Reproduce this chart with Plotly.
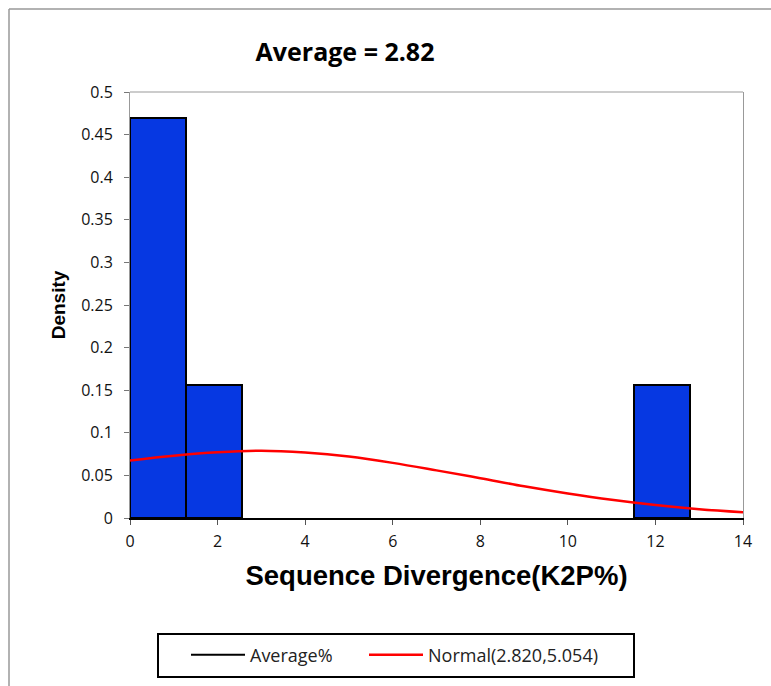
import plotly.graph_objects as go

# ---- data ----
bin_left = [0.0, 1.28, 11.52]
bin_width = [1.28, 1.28, 1.28]
density = [0.469, 0.156, 0.156]

normal_x = [0, 1, 2, 3, 4, 5, 6, 7, 8, 9, 10, 11, 12, 13, 14]
normal_y = [0.0676, 0.0731, 0.0771, 0.0789, 0.0768, 0.0721, 0.0647, 0.0559, 0.0467,
            0.0372, 0.0288, 0.0214, 0.0152, 0.0103, 0.0068]

x_ticks = [0, 2, 4, 6, 8, 10, 12, 14]
y_ticks = [0, 0.05, 0.1, 0.15, 0.2, 0.25, 0.3, 0.35, 0.4, 0.45, 0.5]
y_tick_labels = ["0", "0.05", "0.1", "0.15", "0.2", "0.25", "0.3", "0.35", "0.4", "0.45", "0.5"]

title_text = "Average = 2.82"
x_title = "Sequence Divergence(K2P%)"
y_title = "Density"
legend_avg = "Average%"
legend_norm = "Normal(2.820,5.054)"

W, H = 771, 686
L, R, T, B = 130, 28, 92, 168
pw, ph = W - L - R, H - T - B

def px_x(p):
    return (p - L) / pw

def px_y(p):
    return (H - B - p) / ph

fig = go.Figure()
fig.add_trace(go.Bar(
    x=[l + w / 2 for l, w in zip(bin_left, bin_width)],
    y=density, width=bin_width,
    marker=dict(color="#0638E2", line=dict(color="black", width=2)),
    showlegend=False, hoverinfo="skip",
))
fig.add_trace(go.Scatter(
    x=[None], y=[None], mode="lines", name=legend_avg, legend="legend",
    line=dict(color="black", width=2),
))
fig.add_trace(go.Scatter(
    x=normal_x, y=normal_y, mode="lines", name=legend_norm, legend="legend2",
    line=dict(color="red", width=2.5, shape="spline"),
))

leg_common = dict(orientation="h", xanchor="left", yanchor="middle",
                  bgcolor="rgba(0,0,0,0)", borderwidth=0, itemwidth=54,
                  font=dict(family="Open Sans", size=18, color="#222"))

fig.update_layout(
    width=W, height=H,
    margin=dict(l=L, r=R, t=T, b=B, autoexpand=False),
    paper_bgcolor="white", plot_bgcolor="white",
    bargap=0,
    title=dict(text="<b>" + title_text + "</b>", x=345 / W, xanchor="center",
               y=1 - 52 / H, yanchor="middle",
               font=dict(family="Open Sans", size=25, color="black")),
    xaxis=dict(range=[0, 14], tickvals=x_ticks, ticks="outside", ticklen=5,
               tickcolor="#555", showline=True, linecolor="black", linewidth=2,
               showgrid=False, zeroline=False, ticklabelstandoff=3,
               tickfont=dict(family="Open Sans", size=16, color="#111"),
               title=dict(text="<b>" + x_title + "</b>", standoff=15,
                          font=dict(family="Liberation Sans", size=27.5, color="black"))),
    yaxis=dict(range=[0, 0.5], tickvals=y_ticks, ticktext=y_tick_labels,
               ticks="outside", ticklen=5, tickcolor="#777",
               showline=True, linecolor="#999", linewidth=1, mirror=True,
               showgrid=False, zeroline=False, ticklabelstandoff=8,
               tickfont=dict(family="Open Sans", size=16, color="#111"),
               title=dict(text="<b>" + y_title + "</b>", standoff=10,
                          font=dict(family="Liberation Sans", size=19, color="black"))),
    legend=dict(x=px_x(186), y=px_y(655), **leg_common),
    legend2=dict(x=px_x(364), y=px_y(655), **leg_common),
    shapes=[
        dict(type="line", xref="paper", yref="paper", x0=0, x1=1, y0=1, y1=1,
             line=dict(color="#999", width=1)),
        dict(type="line", xref="paper", yref="paper", x0=px_x(9), x1=px_x(9),
             y0=px_y(9), y1=px_y(700), line=dict(color="#999", width=1.5)),
        dict(type="line", xref="paper", yref="paper", x0=px_x(9), x1=px_x(780),
             y0=px_y(9), y1=px_y(9), line=dict(color="#999", width=1.5)),
        dict(type="rect", xref="paper", yref="paper", x0=px_x(158), x1=px_x(634),
             y0=px_y(634), y1=px_y(677), line=dict(color="black", width=2)),
    ],
)

fig.write_html("out.html")
